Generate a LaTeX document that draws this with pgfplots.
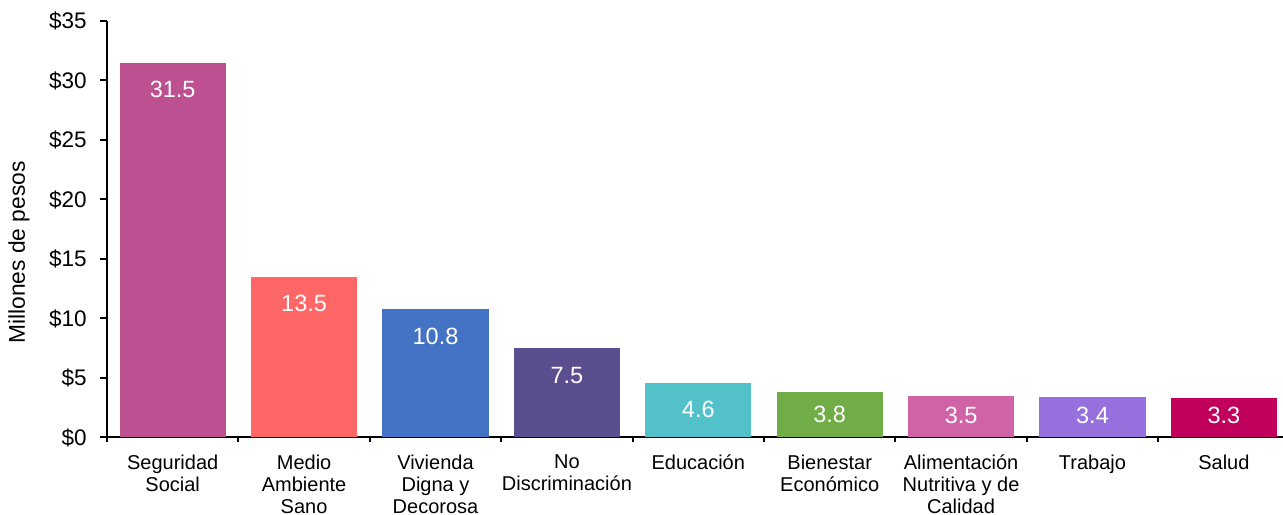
\documentclass[border=0pt]{standalone}
\usepackage{pgfplots}
\pgfplotsset{compat=1.18}
\usepackage{fontspec}
\setmainfont{Liberation Sans}
\definecolor{c1}{HTML}{BC5090}
\definecolor{c2}{HTML}{FF6666}
\definecolor{c3}{HTML}{4472C4}
\definecolor{c4}{HTML}{5A4E8E}
\definecolor{c5}{HTML}{52C1CA}
\definecolor{c6}{HTML}{70AD47}
\definecolor{c7}{HTML}{D063A6}
\definecolor{c8}{HTML}{9670DC}
\definecolor{c9}{HTML}{C0005A}
\begin{document}
\begin{tikzpicture}
\begin{axis}[
  name=ax,
  scale only axis,
  width=588pt, height=208.25pt,
  xmin=-0.5, xmax=8.45,
  ymin=0, ymax=35,
  axis x line*=bottom, axis y line*=left,
  axis line style={line width=1pt, black, -},
  ytick={0,5,...,35},
  yticklabels={\$0,\$5,\$10,\$15,\$20,\$25,\$30,\$35},
  yticklabel style={font=\fontsize{11.25}{13}\selectfont, inner sep=2pt, xshift=-4.5pt},
  xtick={0,...,8},
  xticklabels={Seguridad\\Social, Medio\\Ambiente\\Sano, Vivienda\\Digna y\\Decorosa, No\\Discriminación, Educación, Bienestar\\Económico, Alimentación\\Nutritiva y de\\Calidad, Trabajo, Salud},
  xticklabel style={font=\fontsize{10}{11.1}\selectfont, align=center, yshift=-1.5pt},
  minor xtick={-0.5,0.5,...,8.5},
  tick align=outside,
  major tick style={line width=1pt, black},
  minor tick style={line width=1pt, black},
  xtick style={draw=none},
  minor x tick style={draw=black, line width=1pt},
  ytick style={draw=black, line width=1pt},
  major tick length=3.5pt,
  minor tick length=2.5pt,
  every axis y label/.style={at={(axis description cs:-0.0748,0.444)}, rotate=90, anchor=center, font=\fontsize{11.4}{13}\selectfont},
  ylabel={Millones de pesos},
  bar width=0.807,
  ybar, bar shift=0pt,
  nodes near coords,
  nodes near coords style={font=\fontsize{11.75}{13}\selectfont, text=white, anchor=center},
  every node near coord/.append style={/pgf/number format/fixed, /pgf/number format/fixed zerofill, /pgf/number format/precision=1, /pgf/number format/assume math mode=true},
]
\addplot[fill=c1, draw=none, nodes near coords style={yshift=-13.5pt}] coordinates {(0,31.5)};
\addplot[fill=c2, draw=none, nodes near coords style={yshift=-13.5pt}] coordinates {(1,13.5)};
\addplot[fill=c3, draw=none, nodes near coords style={yshift=-13.5pt}] coordinates {(2,10.8)};
\addplot[fill=c4, draw=none, nodes near coords style={yshift=-13.5pt}] coordinates {(3,7.5)};
\addplot[fill=c5, draw=none, nodes near coords style={yshift=-13.5pt}] coordinates {(4,4.6)};
\addplot[fill=c6, draw=none, nodes near coords style={yshift=-11.3pt}] coordinates {(5,3.8)};
\addplot[fill=c7, draw=none, nodes near coords style={yshift=-9.6pt}] coordinates {(6,3.5)};
\addplot[fill=c8, draw=none, nodes near coords style={yshift=-9.0pt}] coordinates {(7,3.4)};
\addplot[fill=c9, draw=none, nodes near coords style={yshift=-8.4pt}] coordinates {(8,3.3)};
\end{axis}
\pgfresetboundingbox
\useasboundingbox ([shift={(-53.5pt,-38.75pt)}]ax.south west) rectangle ([shift={(0pt,10.5pt)}]ax.north east);
\end{tikzpicture}
\end{document}
